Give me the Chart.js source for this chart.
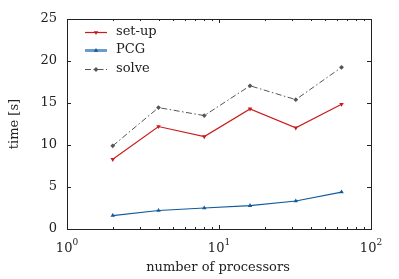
<!DOCTYPE html>
<html>
<head>
<meta charset="utf-8">
<script src="https://cdn.jsdelivr.net/npm/chart.js@4"></script>
<style>
  html, body { margin: 0; padding: 0; background: #fff; }
  #wrap { width: 399px; height: 279px; }
</style>
</head>
<body>
<div id="wrap"><canvas id="chart" width="399" height="279"></canvas></div>
<script>
// -------------------- Data --------------------
const processors = [2, 4, 8, 16, 32, 64];
const setupTime = [8.3, 12.2, 11.0, 14.3, 12.05, 14.85];
const pcgTime = [1.6, 2.2, 2.5, 2.78, 3.33, 4.4];
const solveTime = [9.9, 14.45, 13.5, 17.05, 15.4, 19.25];
const yTicks = [0, 5, 10, 15, 20, 25];
const xDecades = [0, 1, 2];

const FONT = '"DejaVu Serif", "Liberation Serif", serif';
const FS = 13;
const RED = '#cc1a1a';
const BLUE = '#115a9c';
const GRAY = '#555555';

const toPoints = ys => processors.map((x, i) => ({ x, y: ys[i] }));

// -------------------- Axes / ticks / legend plugin --------------------
const framePlugin = {
  id: 'frame',
  afterDatasetsDraw(chart) {
    const { ctx, chartArea: a, scales } = chart;
    const xs = scales.x, ys = scales.y;
    ctx.save();
    ctx.strokeStyle = '#222';
    ctx.lineWidth = 1;
    ctx.strokeRect(Math.round(a.left) + 0.5, Math.round(a.top) + 0.5,
      Math.round(a.right - a.left), Math.round(a.bottom - a.top));

    ctx.beginPath();
    // x ticks (major + minor), bottom and top, inward
    for (let d = 0; d < 2; d++) {
      for (let m = 1; m <= 9; m++) {
        const v = m * Math.pow(10, d);
        const px = Math.round(xs.getPixelForValue(v)) + 0.5;
        const len = m === 1 ? 4 : 2;
        ctx.moveTo(px, a.bottom); ctx.lineTo(px, a.bottom - len);
        ctx.moveTo(px, a.top); ctx.lineTo(px, a.top + len);
      }
    }
    // y ticks, left and right
    yTicks.forEach(v => {
      const py = Math.round(ys.getPixelForValue(v)) + 0.5;
      ctx.moveTo(a.left, py); ctx.lineTo(a.left + 4, py);
      ctx.moveTo(a.right, py); ctx.lineTo(a.right - 4, py);
    });
    ctx.stroke();

    // tick labels
    ctx.fillStyle = '#222';
    ctx.font = FS + 'px ' + FONT;
    ctx.textAlign = 'right';
    ctx.textBaseline = 'middle';
    yTicks.forEach(v => {
      ctx.fillText(String(v), a.left - 10, ys.getPixelForValue(v));
    });
    xDecades.forEach(e => {
      const px = xs.getPixelForValue(Math.pow(10, e));
      ctx.font = FS + 'px ' + FONT;
      const w1 = ctx.measureText('10').width;
      ctx.font = '9px ' + FONT;
      const w2 = ctx.measureText(String(e)).width;
      const x0 = px - (w1 + w2) / 2;
      ctx.textAlign = 'left';
      ctx.textBaseline = 'alphabetic';
      ctx.font = FS + 'px ' + FONT;
      ctx.fillText('10', x0, 252);
      ctx.font = '9px ' + FONT;
      ctx.fillText(String(e), x0 + w1, 245);
    });

    // axis titles
    ctx.font = FS + 'px ' + FONT;
    ctx.textAlign = 'center';
    ctx.textBaseline = 'middle';
    ctx.fillText('number of processors', (a.left + a.right) / 2 - 1, 268);
    ctx.save();
    ctx.translate(15, (a.top + a.bottom) / 2);
    ctx.rotate(-Math.PI / 2);
    ctx.fillText('time [s]', 0, 0);
    ctx.restore();

    // legend
    const rows = [
      { label: 'set-up', ds: 0, y: 32, color: RED, width: 1.2 },
      { label: 'PCG', ds: 1, y: 50, color: '#6e9cc8', width: 3 },
      { label: 'solve', ds: 2, y: 69, color: GRAY, width: 1 }
    ];
    rows.forEach(r => {
      const ds = chart.data.datasets[r.ds];
      ctx.strokeStyle = r.color;
      ctx.lineWidth = r.width;
      ctx.setLineDash(ds.borderDash || []);
      ctx.beginPath();
      ctx.moveTo(85, r.y + 0.5); ctx.lineTo(107, r.y + 0.5);
      ctx.stroke();
      ctx.setLineDash([]);
      ctx.fillStyle = ds.pointBackgroundColor;
      Chart.helpers.drawPoint(ctx, {
        pointStyle: ds.pointStyle, radius: ds.pointRadius,
        rotation: ds.pointRotation || 0, borderWidth: 0
      }, 96, r.y + 0.5);
      ctx.fillStyle = '#222';
      ctx.font = FS + 'px ' + FONT;
      ctx.textAlign = 'left';
      ctx.textBaseline = 'middle';
      ctx.fillText(r.label, 116, r.y);
    });
    ctx.restore();
  }
};

// -------------------- Chart --------------------
new Chart(document.getElementById('chart'), {
  type: 'line',
  data: {
    datasets: [
      {
        label: 'set-up', data: toPoints(setupTime),
        borderColor: RED, borderWidth: 1.2,
        pointStyle: 'triangle', pointRotation: 180, pointRadius: 2.6,
        pointBackgroundColor: RED, pointBorderWidth: 0
      },
      {
        label: 'PCG', data: toPoints(pcgTime),
        borderColor: BLUE, borderWidth: 1.2,
        pointStyle: 'triangle', pointRadius: 2.6,
        pointBackgroundColor: BLUE, pointBorderWidth: 0
      },
      {
        label: 'solve', data: toPoints(solveTime),
        borderColor: GRAY, borderWidth: 1, borderDash: [6, 2.5, 1.5, 2.5],
        pointStyle: 'rectRot', pointRadius: 2.4,
        pointBackgroundColor: GRAY, pointBorderWidth: 0
      }
    ]
  },
  options: {
    responsive: false,
    animation: false,
    devicePixelRatio: 1,
    layout: { padding: { left: 67, right: 28, top: 19, bottom: 50 } },
    plugins: { legend: { display: false }, tooltip: { enabled: false } },
    elements: { line: { tension: 0 } },
    scales: {
      x: { type: 'logarithmic', min: 1, max: 100, display: false },
      y: { type: 'linear', min: 0, max: 25, display: false }
    }
  },
  plugins: [framePlugin]
});
</script>
</body>
</html>
